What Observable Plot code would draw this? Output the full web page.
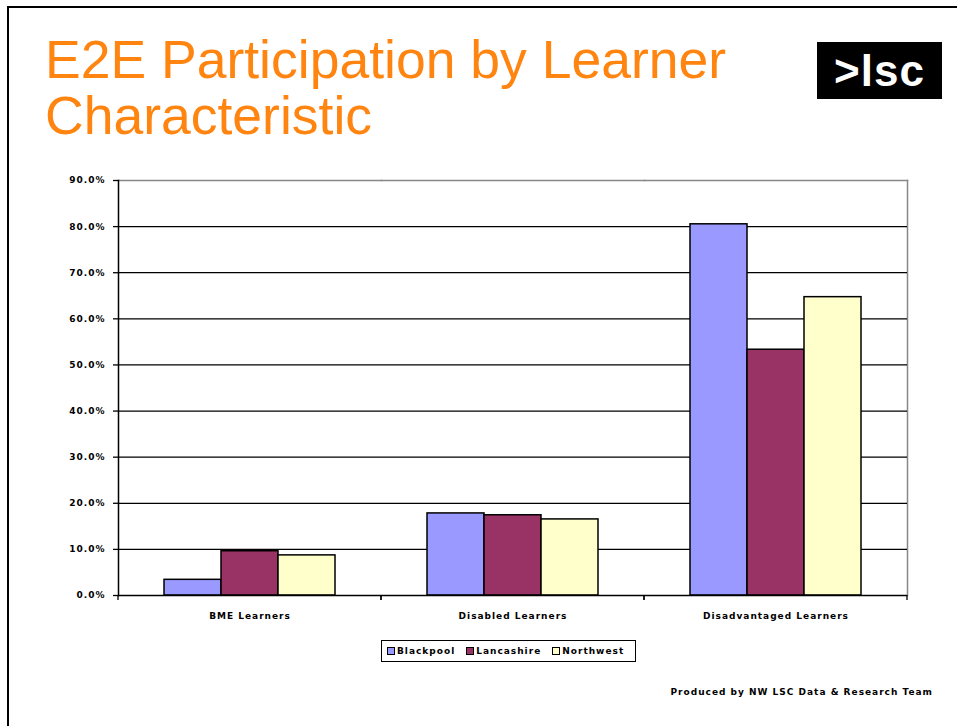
<!DOCTYPE html>
<html>
<head>
<meta charset="utf-8">
<script src="https://cdn.jsdelivr.net/npm/d3@7"></script>
<script src="https://cdn.jsdelivr.net/npm/@observablehq/plot@0.6"></script>
<style>
  html, body { margin: 0; padding: 0; background: #fff; }
  #page { position: relative; width: 957px; height: 726px; overflow: hidden; background: #fff; }
  #frame { position: absolute; left: 7px; top: 6px; width: 960px; height: 730px; border-top: 2px solid #000; border-left: 2px solid #000; }
  #title { position: absolute; left: 45px; top: 32px; font-family: "Liberation Sans", Arial, sans-serif; font-size: 53.5px; line-height: 56px; color: #FF8410; white-space: nowrap; }
  #logo { position: absolute; left: 817px; top: 42px; width: 125px; height: 57px; background: #000; color: #fff; font-family: "Liberation Sans", Arial, sans-serif; font-weight: bold; font-size: 44px; line-height: 57px; text-align: center; letter-spacing: 1px; }
  #chart { position: absolute; left: 0; top: 160px; }
  #legend { position: absolute; left: 381px; top: 640px; width: 253px; height: 20px; border: 1.5px solid #000; display: flex; align-items: center; font-family: "DejaVu Sans", sans-serif; font-weight: bold; font-size: 9px; letter-spacing: 1px; color: #000; }
  .item { display: flex; align-items: center; margin-left: 5px; margin-right: 6px; }
  .sw { width: 6px; height: 6px; border: 1px solid #000; margin-right: 2px; }
  #caption { position: absolute; right: 24px; top: 687px; font-family: "DejaVu Sans", sans-serif; font-weight: bold; font-size: 9px; letter-spacing: 1px; color: #000; white-space: nowrap; }
</style>
</head>
<body>
<div id="page">
  <div id="frame"></div>
  <div id="title">E2E Participation by Learner<br>Characteristic</div>
  <div id="logo">&gt;lsc</div>
  <div id="chart"></div>
  <div id="legend"></div>
  <div id="caption">Produced by NW LSC Data &amp; Research Team</div>
</div>
<script>
const categories = ["BME Learners", "Disabled Learners", "Disadvantaged Learners"];
const series = ["Blackpool", "Lancashire", "Northwest"];
const colors = ["#9999FF", "#993366", "#FFFFCC"];
const blackpool = [3.4, 17.8, 80.5];
const lancashire = [9.6, 17.4, 53.3];
const northwest = [8.7, 16.5, 64.7];
const yTicks = [0, 10, 20, 30, 40, 50, 60, 70, 80, 90];

const valuesBySeries = [blackpool, lancashire, northwest];
const data = [];
categories.forEach((c, i) => {
  series.forEach((s, j) => {
    data.push({category: c, series: s, value: valuesBySeries[j][i]});
  });
});

const fmt = d => d.toFixed(1) + "%";

// small ticks below the x axis at each facet's left and right edges (rendered per facet)
const boundaryTicks = (index, scales, values, dimensions) => {
  const {marginLeft, marginBottom, height} = dimensions;
  const bw = scales.fx ? scales.fx.bandwidth() : 0;
  const g = d3.create("svg:g");
  const y0 = height - marginBottom;
  [marginLeft, marginLeft + bw].forEach(b => {
    g.append("line").attr("x1", b).attr("x2", b).attr("y1", y0).attr("y2", y0 + 5)
      .attr("stroke", "#000").attr("stroke-width", 1.3);
  });
  return g.node();
};

const chart = Plot.plot({
  width: 957,
  height: 470,
  marginLeft: 117,
  marginRight: 49,
  marginTop: 20,
  marginBottom: 35,
  style: {fontFamily: "DejaVu Sans, sans-serif", fontWeight: "bold", fontSize: "9px", letterSpacing: "1px", color: "#000", background: "transparent"},
  fx: {domain: categories, padding: 0, label: null},
  x: {domain: series, paddingInner: 0, paddingOuter: 0.77, axis: null},
  y: {domain: [0, 90], label: null},
  color: {domain: series, range: colors},
  marks: [
    Plot.frame({anchor: "top", stroke: "#888", strokeWidth: 1.5}),
    Plot.frame({anchor: "right", facetAnchor: "right", stroke: "#888", strokeWidth: 1.5}),
    Plot.gridY(yTicks.filter(t => t > 0 && t < 90), {stroke: "#000", strokeOpacity: 1, strokeWidth: 1.3}),
    Plot.barY(data, {fx: "category", x: "series", y: "value", fill: "series", stroke: "#000", strokeWidth: 1.5}),
    Plot.ruleY([0], {stroke: "#000", strokeWidth: 1.5}),
    Plot.frame({anchor: "left", facetAnchor: "left", stroke: "#000", strokeWidth: 1.5}),
    Plot.axisY(yTicks, {tickSize: 5, tickPadding: 8, tickFormat: fmt, label: null, stroke: "#000", strokeWidth: 1.3}),
    Plot.axisFx({anchor: "bottom", tickSize: 0, tickPadding: 17, label: null}),
    boundaryTicks
  ]
});
document.getElementById("chart").appendChild(chart);

const legend = document.getElementById("legend");
series.forEach((s, i) => {
  const item = document.createElement("div");
  item.className = "item";
  const sw = document.createElement("span");
  sw.className = "sw";
  sw.style.background = colors[i];
  const t = document.createElement("span");
  t.textContent = s;
  item.appendChild(sw);
  item.appendChild(t);
  legend.appendChild(item);
});
</script>
</body>
</html>
